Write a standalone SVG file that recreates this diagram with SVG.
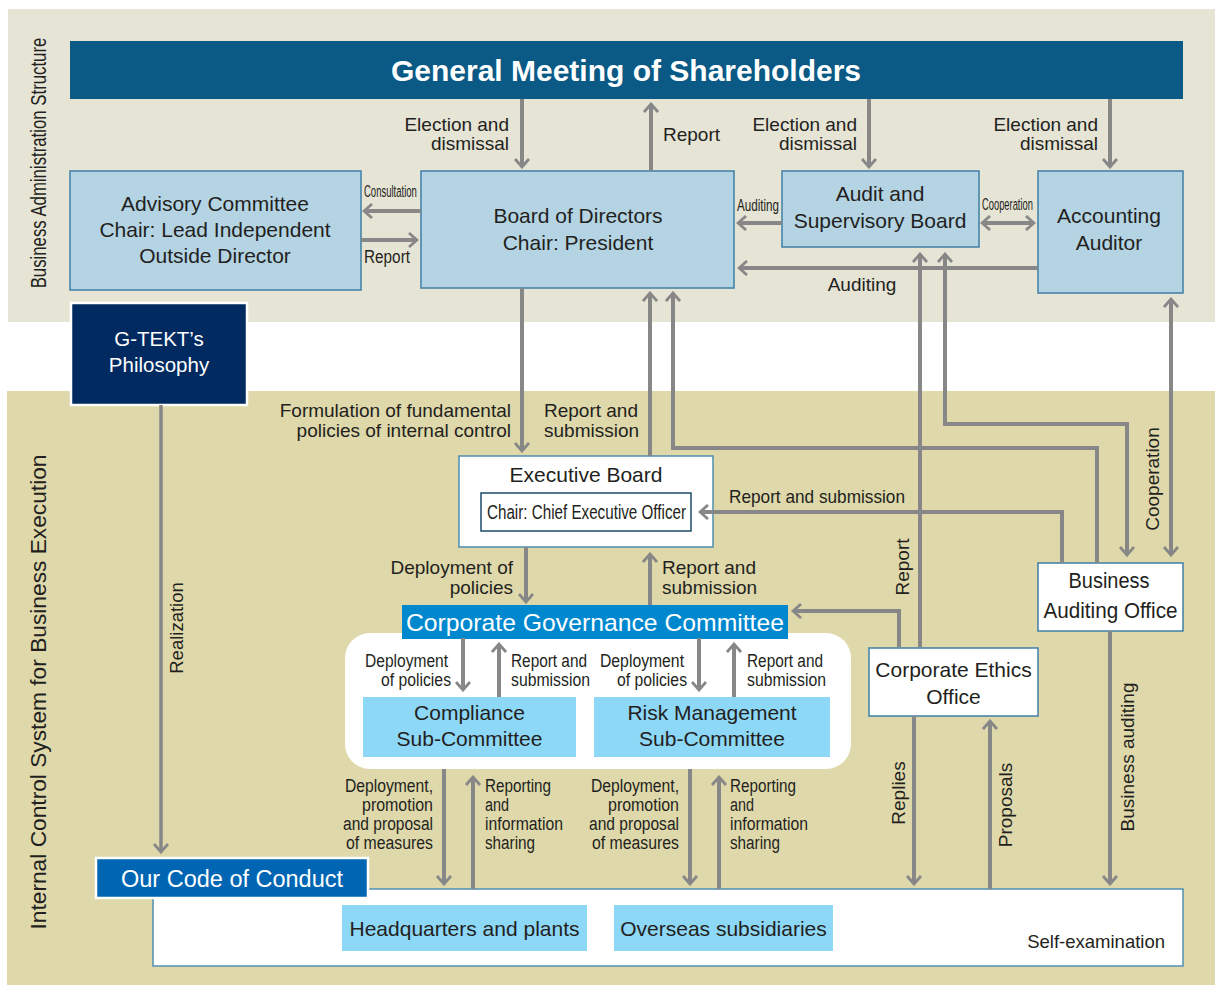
<svg xmlns="http://www.w3.org/2000/svg" width="1215" height="985" viewBox="0 0 1215 985">
  <style>
    text { font-family: "Liberation Sans", Arial, Helvetica, sans-serif; fill: #231f20; }
    .m { text-anchor: middle; }
    .e { text-anchor: end; }
    .f21 { font-size: 21px; }
    .f19 { font-size: 19px; }
    .f18 { font-size: 18px; }
    .wt { fill: #ffffff; }
    .box { fill: #b4d4e4; stroke: #3e7fa6; stroke-width: 1.5; }
    .wbox { fill: #ffffff; stroke: #3e7fa6; stroke-width: 1.5; }
    .sub { fill: #8dd7f7; }
    .ln { fill: none; stroke: #878787; stroke-width: 4; marker-end: url(#ah); }
    .both { marker-start: url(#ah); }
  </style>
  <defs>
    <marker id="ah" viewBox="0 0 14 16" refX="11" refY="8" markerWidth="14" markerHeight="16" markerUnits="userSpaceOnUse" orient="auto-start-reverse">
      <path d="M4,1 L12,8 L4,15" fill="none" stroke="#878787" stroke-width="2.8"/>
    </marker>
  </defs>

  <!-- section bands -->
  <g id="bands">
    <rect x="0" y="0" width="1215" height="985" fill="#ffffff"/>
    <rect x="8" y="9" width="1207" height="313" fill="#e6e4d5"/>
    <rect x="7" y="391" width="1208" height="594" fill="#ded8aa"/>
    <text class="m" font-size="22.5" transform="translate(46,163) rotate(-90) scale(0.746,1)">Business Administration Structure</text>
    <text class="m" font-size="22.5" textLength="475" lengthAdjust="spacingAndGlyphs" transform="translate(46,692) rotate(-90)">Internal Control System for Business Execution</text>
    <!-- panel holding the two sub-committees -->
    <rect x="345" y="633" width="506" height="136" rx="25" fill="#ffffff"/>
  </g>

  <!-- nodes -->
  <g id="general-meeting">
    <rect x="70" y="41" width="1113" height="58" fill="#0a5a85"/>
    <text class="m wt" x="626" y="81" font-size="30" font-weight="bold">General Meeting of Shareholders</text>
  </g>

  <g id="advisory-committee" class="f21">
    <rect class="box" x="70" y="171" width="291" height="119"/>
    <text class="m" x="215" y="211">Advisory Committee</text>
    <text class="m" x="215" y="237">Chair: Lead Independent</text>
    <text class="m" x="215" y="263">Outside Director</text>
  </g>

  <g id="board-of-directors" class="f21">
    <rect class="box" x="421" y="171" width="313" height="117"/>
    <text class="m" x="578" y="223">Board of Directors</text>
    <text class="m" x="578" y="250">Chair: President</text>
  </g>

  <g id="audit-supervisory-board" class="f21">
    <rect class="box" x="782" y="171" width="197" height="76"/>
    <text class="m" x="880" y="201">Audit and</text>
    <text class="m" x="880" y="228">Supervisory Board</text>
  </g>

  <g id="accounting-auditor" class="f21">
    <rect class="box" x="1038" y="171" width="145" height="122"/>
    <text class="m" x="1109" y="223">Accounting</text>
    <text class="m" x="1109" y="250">Auditor</text>
  </g>

  <g id="philosophy">
    <rect x="71" y="303" width="176" height="102" fill="#012a61" stroke="#ffffff" stroke-width="2.5"/>
    <text class="m wt" x="159" y="346" font-size="20.5">G-TEKT’s</text>
    <text class="m wt" x="159" y="372" font-size="20.5">Philosophy</text>
  </g>

  <g id="executive-board">
    <rect x="459" y="456" width="254" height="91" fill="#ffffff" stroke="#4e8db0" stroke-width="1.5"/>
    <text class="m f21" x="586" y="482">Executive Board</text>
    <rect x="481" y="493" width="210" height="38" fill="#ffffff" stroke="#1d4b6b" stroke-width="1.5"/>
    <text class="m" x="586.5" y="519" font-size="19.5" textLength="199" lengthAdjust="spacingAndGlyphs">Chair: Chief Executive Officer</text>
  </g>

  <g id="corporate-governance-committee">
    <rect x="402" y="605" width="386" height="34" fill="#0088cf"/>
    <text class="m wt" x="595" y="631" font-size="24" textLength="378" lengthAdjust="spacingAndGlyphs">Corporate Governance Committee</text>
  </g>

  <g id="compliance-sub-committee" class="f21">
    <rect class="sub" x="363" y="697" width="213" height="60"/>
    <text class="m" x="469.5" y="720">Compliance</text>
    <text class="m" x="469.5" y="746">Sub-Committee</text>
  </g>

  <g id="risk-management-sub-committee" class="f21">
    <rect class="sub" x="594" y="697" width="236" height="60"/>
    <text class="m" x="712" y="720">Risk Management</text>
    <text class="m" x="712" y="746">Sub-Committee</text>
  </g>

  <g id="corporate-ethics-office" class="f21">
    <rect class="wbox" x="869" y="648" width="169" height="68"/>
    <text class="m" x="953.5" y="677">Corporate Ethics</text>
    <text class="m" x="953.5" y="704">Office</text>
  </g>

  <g id="business-auditing-office">
    <rect class="wbox" x="1038" y="563" width="145" height="68"/>
    <text class="m" x="1109" y="588" font-size="22.5" textLength="81" lengthAdjust="spacingAndGlyphs">Business</text>
    <text class="m" x="1110.5" y="618" font-size="22.5" textLength="134" lengthAdjust="spacingAndGlyphs">Auditing Office</text>
  </g>

  <g id="self-examination">
    <rect x="153" y="889" width="1030" height="77" fill="#ffffff" stroke="#4f8fb2" stroke-width="1.5"/>
    <text class="e" x="1165" y="948" font-size="18.5">Self-examination</text>
  </g>

  <g id="code-of-conduct">
    <rect x="96" y="858" width="272" height="40" fill="#0066b3" stroke="#ffffff" stroke-width="2.5"/>
    <text class="m wt" x="232" y="887" font-size="23" textLength="222" lengthAdjust="spacingAndGlyphs">Our Code of Conduct</text>
  </g>

  <g id="headquarters-and-plants">
    <rect class="sub" x="342" y="905" width="245" height="46"/>
    <text class="m f21" x="464.5" y="936">Headquarters and plants</text>
  </g>

  <g id="overseas-subsidiaries">
    <rect class="sub" x="614" y="905" width="219" height="46"/>
    <text class="m f21" x="723.5" y="936">Overseas subsidiaries</text>
  </g>

  <!-- connectors -->
  <g id="connectors">
    <path class="ln" d="M522,99 V166"/>
    <path class="ln" d="M651,171 V105"/>
    <path class="ln" d="M869,99 V166"/>
    <path class="ln" d="M1110,99 V166"/>
    <path class="ln" d="M421,211 H365"/>
    <path class="ln" d="M361,240 H416"/>
    <path class="ln" d="M782,223 H739"/>
    <path class="ln both" d="M983,223 H1033"/>
    <path class="ln" d="M1038,268 H740"/>
    <path class="ln" d="M522,288 V450"/>
    <path class="ln" d="M650,456 V294"/>
    <path class="ln" d="M1097,563 V448 H673 V294"/>
    <path class="ln" d="M920,647 V255"/>
    <path class="ln both" d="M945,255 V424 H1127 V554"/>
    <path class="ln both" d="M1171,300 V554"/>
    <path class="ln" d="M1062,563 V512 H701"/>
    <path class="ln" d="M526,547 V601"/>
    <path class="ln" d="M650,605 V555"/>
    <path class="ln" d="M899,647 V611 H794"/>
    <path class="ln" d="M463,638 V689"/>
    <path class="ln" d="M499,697 V645"/>
    <path class="ln" d="M699,638 V689"/>
    <path class="ln" d="M734,697 V645"/>
    <path class="ln" d="M444,769 V883"/>
    <path class="ln" d="M473,889 V778"/>
    <path class="ln" d="M690,769 V883"/>
    <path class="ln" d="M719,889 V778"/>
    <path class="ln" d="M914,716 V883"/>
    <path class="ln" d="M990,889 V722"/>
    <path class="ln" d="M1110,631 V883"/>
    <path class="ln" d="M161,405 V851" style="stroke-width:3.5"/>
  </g>

  <!-- connector labels -->
  <g id="labels" class="f19">
    <text class="e" x="509" y="131">Election and</text>
    <text class="e" x="509" y="150">dismissal</text>
    <text x="663" y="141">Report</text>
    <text class="e" x="857" y="131">Election and</text>
    <text class="e" x="857" y="150">dismissal</text>
    <text class="e" x="1098" y="131">Election and</text>
    <text class="e" x="1098" y="150">dismissal</text>
    <text font-size="17" transform="translate(364,197) scale(0.56,1)">Consultation</text>
    <text x="364" y="263" font-size="18" textLength="46" lengthAdjust="spacingAndGlyphs">Report</text>
    <text font-size="17" transform="translate(737,211) scale(0.684,1)">Auditing</text>
    <text font-size="17" transform="translate(982,210) scale(0.55,1)">Cooperation</text>
    <text class="m" x="862" y="291">Auditing</text>

    <text class="e" x="511" y="417">Formulation of fundamental</text>
    <text class="e" x="511" y="437">policies of internal control</text>
    <text x="544" y="417">Report and</text>
    <text x="544" y="437">submission</text>
    <text x="729" y="503" textLength="176" lengthAdjust="spacingAndGlyphs">Report and submission</text>
    <text class="e" x="513" y="574">Deployment of</text>
    <text class="e" x="513" y="594">policies</text>
    <text x="662" y="574">Report and</text>
    <text x="662" y="594">submission</text>

    <g class="f18">
      <text class="e" x="448" y="667" textLength="83" lengthAdjust="spacingAndGlyphs">Deployment</text>
      <text class="e" x="451" y="686" textLength="70" lengthAdjust="spacingAndGlyphs">of policies</text>
      <text x="511" y="667" textLength="76" lengthAdjust="spacingAndGlyphs">Report and</text>
      <text x="511" y="686" textLength="79" lengthAdjust="spacingAndGlyphs">submission</text>
      <text class="e" x="684" y="667" textLength="84" lengthAdjust="spacingAndGlyphs">Deployment</text>
      <text class="e" x="687" y="686" textLength="70" lengthAdjust="spacingAndGlyphs">of policies</text>
      <text x="747" y="667" textLength="76" lengthAdjust="spacingAndGlyphs">Report and</text>
      <text x="747" y="686" textLength="79" lengthAdjust="spacingAndGlyphs">submission</text>

      <text class="e" x="433" y="792" textLength="88" lengthAdjust="spacingAndGlyphs">Deployment,</text>
      <text class="e" x="433" y="811" textLength="71" lengthAdjust="spacingAndGlyphs">promotion</text>
      <text class="e" x="433" y="830" textLength="90" lengthAdjust="spacingAndGlyphs">and proposal</text>
      <text class="e" x="433" y="849" textLength="87" lengthAdjust="spacingAndGlyphs">of measures</text>
      <text x="485" y="792" textLength="66" lengthAdjust="spacingAndGlyphs">Reporting</text>
      <text x="485" y="811" textLength="24" lengthAdjust="spacingAndGlyphs">and</text>
      <text x="485" y="830" textLength="78" lengthAdjust="spacingAndGlyphs">information</text>
      <text x="485" y="849" textLength="50" lengthAdjust="spacingAndGlyphs">sharing</text>
      <text class="e" x="679" y="792" textLength="88" lengthAdjust="spacingAndGlyphs">Deployment,</text>
      <text class="e" x="679" y="811" textLength="71" lengthAdjust="spacingAndGlyphs">promotion</text>
      <text class="e" x="679" y="830" textLength="90" lengthAdjust="spacingAndGlyphs">and proposal</text>
      <text class="e" x="679" y="849" textLength="87" lengthAdjust="spacingAndGlyphs">of measures</text>
      <text x="730" y="792" textLength="66" lengthAdjust="spacingAndGlyphs">Reporting</text>
      <text x="730" y="811" textLength="24" lengthAdjust="spacingAndGlyphs">and</text>
      <text x="730" y="830" textLength="78" lengthAdjust="spacingAndGlyphs">information</text>
      <text x="730" y="849" textLength="50" lengthAdjust="spacingAndGlyphs">sharing</text>
    </g>

    <text class="m" font-size="18.5" transform="translate(183,628) rotate(-90)">Realization</text>
    <text class="m" transform="translate(909,567) rotate(-90)">Report</text>
    <text class="m" transform="translate(1159,479) rotate(-90)">Cooperation</text>
    <text class="m" transform="translate(905,793) rotate(-90)">Replies</text>
    <text class="m" transform="translate(1012,805) rotate(-90)">Proposals</text>
    <text class="m" transform="translate(1134,757) rotate(-90)">Business auditing</text>
  </g>
</svg>
